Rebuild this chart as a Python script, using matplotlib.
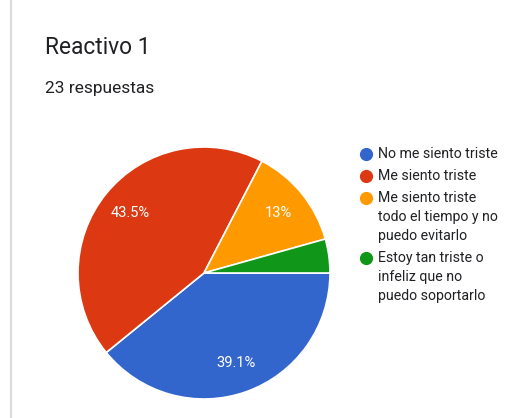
import matplotlib
matplotlib.use("Agg")
import matplotlib.pyplot as plt
from matplotlib.lines import Line2D

labels = ["No me siento triste", "Me siento triste",
          "Me siento triste\ntodo el tiempo y no\npuedo evitarlo",
          "Estoy tan triste o\ninfeliz que no\npuedo soportarlo"]
counts = [9, 10, 3, 1]
colors = ["#3366cc", "#dc3912", "#ff9900", "#109618"]
title = "Reactivo 1"
subtitle = "23 respuestas"

plt.rcParams['font.family'] = ['Roboto', 'DejaVu Sans']

W, H = 531, 418
fig = plt.figure(figsize=(W / 100, H / 100), dpi=100)
fig.patch.set_facecolor("white")

# left gray rule
fig.add_artist(Line2D([11 / W, 11 / W], [0, 1], transform=fig.transFigure,
                      color="#dadada", linewidth=1.5))

fig.text(45 / W, 1 - 47 / H, title, fontsize=16.4, color="#202124",
         ha="left", va="center")
fig.text(45 / W, 1 - 88 / H, subtitle, fontsize=12.5, color="#202124",
         ha="left", va="center")

cx, cy, r = 204, 273, 126
ax = fig.add_axes([(cx - r) / W, (H - cy - r) / H, 2 * r / W, 2 * r / H])


def fmt(p):
    if p < 5:
        return ""
    s = f"{p:.1f}"
    if s.endswith(".0"):
        s = s[:-2]
    return s + "%"


wedges, texts, autotexts = ax.pie(
    counts, colors=colors, startangle=0, counterclock=False,
    autopct=fmt, pctdistance=0.76,
    wedgeprops=dict(edgecolor="white", linewidth=1.2),
    textprops=dict(color="white", fontsize=10.5))
ax.set_xlim(-1, 1)
ax.set_ylim(-1, 1)
ax.set_aspect("equal")
ax.axis("off")

# legend, marker aligned with first line of each entry
y = 154
for lab, c in zip(labels, colors):
    fig.add_artist(Line2D([366 / W], [1 - y / H], transform=fig.transFigure,
                          marker="o", markersize=8.5, linestyle="none",
                          markerfacecolor=c, markeredgecolor=c))
    for i, line in enumerate(lab.split("\n")):
        fig.text(378 / W, 1 - y / H, line, fontsize=10.2, color="#202124",
                 ha="left", va="center")
        y += 19
    y += 3

fig.savefig("out.png", dpi=100, facecolor="white")
